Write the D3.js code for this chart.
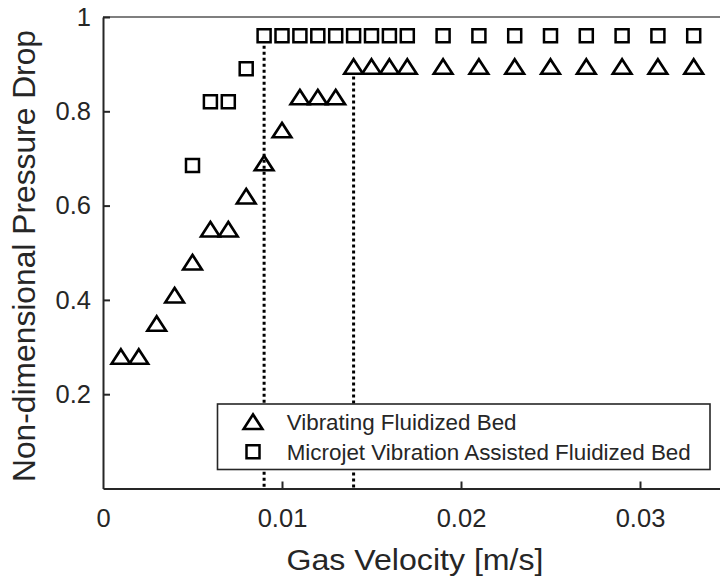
<!DOCTYPE html>
<html>
<head>
<meta charset="utf-8">
<script src="https://cdn.jsdelivr.net/npm/d3@7"></script>
<style>
  html, body { margin: 0; padding: 0; background: #fff; overflow: hidden; }
  svg { display: block; font-family: "Liberation Sans", Arial, sans-serif; }
</style>
</head>
<body>
<svg id="chart" width="720" height="583"></svg>
<script>
// Gas velocity [m/s] for each measurement
const vfbVelocity = [0.001, 0.002, 0.003, 0.004, 0.005, 0.006, 0.007, 0.008, 0.009, 0.010,
  0.011, 0.012, 0.013, 0.014, 0.015, 0.016, 0.017, 0.019, 0.021, 0.023, 0.025, 0.027,
  0.029, 0.031, 0.033];
// Vibrating fluidized bed: non-dimensional pressure drop
const vfbPressure = [0.28, 0.28, 0.35, 0.41, 0.48, 0.55, 0.55, 0.62, 0.69, 0.76,
  0.83, 0.83, 0.83, 0.895, 0.895, 0.895, 0.895, 0.895, 0.895, 0.895, 0.895, 0.895,
  0.895, 0.895, 0.895];

const mvfbVelocity = [0.005, 0.006, 0.007, 0.008, 0.009, 0.010, 0.011, 0.012, 0.013,
  0.014, 0.015, 0.016, 0.017, 0.019, 0.021, 0.023, 0.025, 0.027, 0.029, 0.031, 0.033];
// Microjet vibration assisted fluidized bed: non-dimensional pressure drop
const mvfbPressure = [0.685, 0.82, 0.82, 0.89, 0.96, 0.96, 0.96, 0.96, 0.96,
  0.96, 0.96, 0.96, 0.96, 0.96, 0.96, 0.96, 0.96, 0.96, 0.96, 0.96, 0.96];

// Minimum fluidization velocities marked with dotted lines
const umfVelocity = [0.009, 0.014];
const umfPressure = [0.96, 0.895];

const xTicks = [0, 0.01, 0.02, 0.03];
const yTicks = [0.2, 0.4, 0.6, 0.8, 1];
const xDomain = [0, 0.035];
const yDomain = [0, 1];
const legendLabels = ["Vibrating Fluidized Bed", "Microjet Vibration Assisted Fluidized Bed"];

const svg = d3.select("#chart");
const plotLeft = 103, plotRight = 729.5, plotTop = 17, plotBottom = 488.5;
const x = d3.scaleLinear().domain(xDomain).range([plotLeft, plotRight]);
const y = d3.scaleLinear().domain(yDomain).range([plotBottom, plotTop]);
const axisColor = "#262626";

// top frame line
svg.append("line")
  .attr("x1", plotLeft).attr("x2", plotRight).attr("y1", plotTop).attr("y2", plotTop)
  .attr("stroke", "#555").attr("stroke-width", 1.6);

// dotted guide lines
umfVelocity.forEach((v, i) => {
  svg.append("line")
    .attr("x1", x(v)).attr("x2", x(v))
    .attr("y1", y(umfPressure[i]) + 10).attr("y2", plotBottom)
    .attr("stroke", "#000").attr("stroke-width", 3)
    .attr("stroke-dasharray", "3,3");
});

// axes with inward ticks
const xAxis = d3.axisBottom(x).tickValues(xTicks).tickSizeInner(-7).tickSizeOuter(0)
  .tickPadding(20).tickFormat(d => d === 0 ? "0" : d3.format("")(d));
const gx = svg.append("g").attr("transform", `translate(0,${plotBottom})`).call(xAxis);
const yAxis = d3.axisLeft(y).tickValues(yTicks).tickSizeInner(-7).tickSizeOuter(0)
  .tickPadding(12).tickFormat(d => d === 1 ? "1" : d3.format("")(d));
const gy = svg.append("g").attr("transform", `translate(${plotLeft},0)`).call(yAxis);

[gx, gy].forEach(g => {
  g.select(".domain").attr("stroke", axisColor).attr("stroke-width", 2);
  g.selectAll(".tick line").attr("stroke", axisColor).attr("stroke-width", 2);
  g.selectAll(".tick text").attr("fill", "#262626")
    .style("font-family", "'Liberation Sans', Arial, sans-serif").style("font-size", "25.5px");
});
gx.selectAll(".tick").filter(d => d === 0).select("line").remove();

// axis titles
svg.append("text")
  .attr("x", 415).attr("y", 570)
  .attr("text-anchor", "middle").attr("fill", "#262626")
  .attr("textLength", 257).attr("lengthAdjust", "spacingAndGlyphs")
  .style("font-size", "29px")
  .text("Gas Velocity [m/s]");
svg.append("text")
  .attr("transform", `translate(35,256) rotate(-90)`)
  .attr("text-anchor", "middle").attr("fill", "#262626")
  .attr("textLength", 452).attr("lengthAdjust", "spacingAndGlyphs")
  .style("font-size", "31.5px")
  .text("Non-dimensional Pressure Drop");

const tri = d3.symbol().type(d3.symbolTriangle).size(120);
const sq = d3.symbol().type(d3.symbolSquare).size(169);
const triTransform = (cx, cy) => `translate(${cx},${cy + 2.4}) scale(1.12,1)`;

// triangle markers (vibrating fluidized bed)
svg.append("g").selectAll("path")
  .data(vfbVelocity.map((v, i) => [v, vfbPressure[i]]))
  .join("path")
  .attr("d", tri)
  .attr("transform", d => triTransform(x(d[0]), y(d[1])))
  .attr("fill", "none").attr("stroke", "#000").attr("stroke-width", 2.5);

// square markers (microjet assisted bed)
svg.append("g").selectAll("path")
  .data(mvfbVelocity.map((v, i) => [v, mvfbPressure[i]]))
  .join("path")
  .attr("d", sq)
  .attr("transform", d => `translate(${x(d[0])},${y(d[1])})`)
  .attr("fill", "none").attr("stroke", "#000").attr("stroke-width", 2.5);

// legend
const lg = svg.append("g");
lg.append("rect")
  .attr("x", 217.5).attr("y", 404).attr("width", 492.5).attr("height", 65.5)
  .attr("fill", "#fff").attr("stroke", axisColor).attr("stroke-width", 1.6);
legendLabels.forEach((label, i) => {
  const cy = 421.7 + i * 30;
  lg.append("path")
    .attr("d", i === 0 ? tri : sq)
    .attr("transform", i === 0 ? triTransform(253, cy) : `translate(253,${cy})`)
    .attr("fill", "none").attr("stroke", "#000").attr("stroke-width", 2.5);
  lg.append("text")
    .attr("x", 286.7).attr("y", 430 + i * 30)
    .attr("fill", "#262626")
    .style("font-size", "22.4px")
    .text(label);
});
</script>
</body>
</html>
